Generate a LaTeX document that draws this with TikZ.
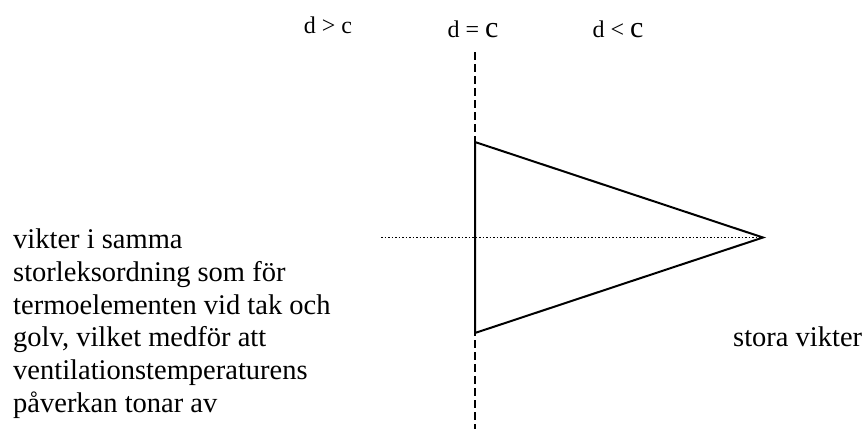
\documentclass[tikz,border=0pt]{standalone}
\usepackage{fontspec}
\setmainfont{Liberation Serif}
\begin{document}
\begin{tikzpicture}[x=1pt,y=-1pt,
  lbl/.style={inner sep=0pt,anchor=base,font=\fontsize{24}{28}\selectfont},
  bodytext/.style={inner sep=0pt,anchor=base west,font=\fontsize{28.5}{33}\selectfont},
  tri/.style={line width=2pt,line join=miter},
  vdash/.style={line width=1.8pt,dash pattern=on 8pt off 4pt},
  hdot/.style={line width=1.5pt,dash pattern=on 1.5pt off 2pt}]
\useasboundingbox (0,0) rectangle (863,429);
% labels at top
\node[lbl] (gt) at (328,33) {d > c};
\node[lbl] (eq) at (473,37) {d = {\fontsize{30}{30}\selectfont c}};
\node[lbl] (lt) at (618,37) {d < {\fontsize{30}{30}\selectfont c}};
% dashed vertical line
\coordinate (vtop) at (475,52);
\coordinate (vbot) at (475,429);
\draw[vdash] (vtop) -- (vbot);
% triangle
\coordinate (A) at (475,142);
\coordinate (B) at (475,333);
\coordinate (C) at (763,237.5);
\coordinate (D) at (381,237.5);
\draw[hdot] (D) -- (C);
\draw[tri] (A) -- (C) -- (B) -- cycle;
% left text
\node[bodytext] (l1) at (13,248) {vikter i samma};
\node[bodytext] (l2) at (13,281) {storleksordning som för};
\node[bodytext] (l3) at (13,314) {termoelementen vid tak och};
\node[bodytext] (l4) at (13,346) {golv, vilket medför att};
\node[bodytext] (l5) at (13,379) {ventilationstemperaturens};
\node[bodytext] (l6) at (13,412) {påverkan tonar av};
% right text
\node[bodytext] (sv) at (733,346) {stora vikter};
\end{tikzpicture}
\end{document}
